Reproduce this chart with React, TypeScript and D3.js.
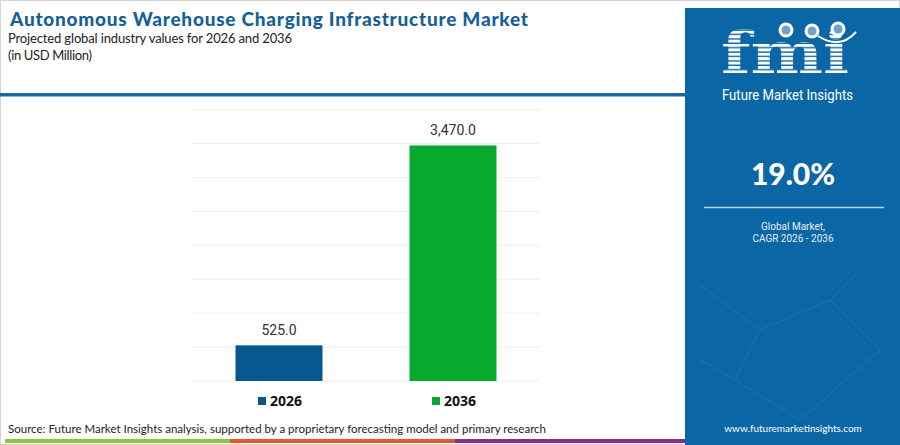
import { useEffect, useRef } from "react";
import * as d3 from "d3";

const years = ["2026", "2036"];
const values = [525.0, 3470.0];
const barColors = ["#08578f", "#08aa2e"];
const gridTicks = [0, 500, 1000, 1500, 2000, 2500, 3000, 3500, 4000];
const cagrText = "19.0%";
const stripColors = ["#8cc540", "#e4572b", "#8b2c8e"];

const App = () => {
  const ref = useRef<SVGSVGElement>(null);

  useEffect(() => {
    const svg = d3.select(ref.current);
    svg.selectAll("*").remove();
    const W = 900;
    const H = 445;
    const font = "Lato, 'Open Sans', sans-serif";

    svg.append("rect").attr("width", W).attr("height", H).attr("fill", "#fff");
    // light frame
    svg
      .append("rect")
      .attr("x", 0.5)
      .attr("y", 0.5)
      .attr("width", W - 1)
      .attr("height", H - 1)
      .attr("fill", "none")
      .attr("stroke", "#d4d4d4");

    // title block
    svg
      .append("text")
      .attr("x", 10)
      .attr("y", 26)
      .attr("font-family", font)
      .attr("font-weight", 900)
      .attr("font-size", 19)
      .attr("fill", "#165f97")
      .attr("textLength", 518)
      .text("Autonomous Warehouse Charging Infrastructure Market");
    svg
      .append("text")
      .attr("x", 8)
      .attr("y", 43)
      .attr("font-family", font)
      .attr("font-size", 13)
      .attr("fill", "#222")
      .attr("textLength", 284)
      .text("Projected global industry values for 2026 and 2036");
    svg
      .append("text")
      .attr("x", 8)
      .attr("y", 60)
      .attr("font-family", font)
      .attr("font-size", 13)
      .attr("fill", "#222")
      .attr("textLength", 84)
      .text("(in USD Million)");

    svg
      .append("rect")
      .attr("x", 0)
      .attr("y", 93)
      .attr("width", 685)
      .attr("height", 3.5)
      .attr("fill", "#1c68a6");

    // chart
    const x = d3
      .scaleBand()
      .domain(years)
      .range([192, 540])
      .paddingInner(0.5)
      .paddingOuter(0.25);
    const y = d3.scaleLinear().domain([0, 4000]).range([381, 109.5]);

    svg
      .append("g")
      .selectAll("line")
      .data(gridTicks)
      .enter()
      .append("line")
      .attr("x1", 192)
      .attr("x2", 540)
      .attr("y1", (d) => y(d))
      .attr("y2", (d) => y(d))
      .attr("stroke", "#ececec")
      .attr("stroke-width", 1);

    const data = years.map((yr, i) => ({ yr, v: values[i], c: barColors[i] }));

    svg
      .append("g")
      .selectAll("rect")
      .data(data)
      .enter()
      .append("rect")
      .attr("x", (d) => x(d.yr)!)
      .attr("width", x.bandwidth())
      .attr("y", (d) => y(d.v))
      .attr("height", (d) => y(0) - y(d.v))
      .attr("fill", (d) => d.c);

    svg
      .append("g")
      .selectAll("text")
      .data(data)
      .enter()
      .append("text")
      .attr("x", (d) => x(d.yr)! + x.bandwidth() / 2)
      .attr("y", (d) => y(d.v) - 10)
      .attr("text-anchor", "middle")
      .attr("font-family", "Roboto, sans-serif")
      .attr("font-size", 14)
      .attr("fill", "#333")
      .text((d) => d3.format(",.1f")(d.v));

    // legend
    const lg = svg
      .append("g")
      .selectAll("g")
      .data(data)
      .enter()
      .append("g")
      .attr("transform", (d) => `translate(${x(d.yr)! + x.bandwidth() / 2 - 21},397)`);
    lg.append("rect").attr("width", 8).attr("height", 8).attr("fill", (d) => d.c);
    lg.append("text")
      .attr("x", 12)
      .attr("y", 9)
      .attr("font-family", "'Open Sans', sans-serif")
      .attr("font-weight", 700)
      .attr("font-size", 14)
      .attr("fill", "#111")
      .text((d) => d.yr);

    // source + strips
    svg
      .append("text")
      .attr("x", 8)
      .attr("y", 433)
      .attr("font-family", font)
      .attr("font-size", 11.5)
      .attr("fill", "#222")
      .attr("textLength", 538)
      .text("Source: Future Market Insights analysis, supported by a proprietary forecasting model and primary research");

    const stripX = [5, 230, 455, 685];
    stripColors.forEach((c, i) => {
      svg
        .append("rect")
        .attr("x", stripX[i])
        .attr("y", 439)
        .attr("width", stripX[i + 1] - stripX[i])
        .attr("height", 4)
        .attr("fill", c);
    });

    // right panel
    const px = 685;
    svg
      .append("rect")
      .attr("x", px)
      .attr("y", 8)
      .attr("width", W - px)
      .attr("height", H - 8)
      .attr("fill", "#0b66a6");

    // faint network decoration
    const net = [
      [700, 285, 760, 330],
      [760, 330, 735, 380],
      [735, 380, 800, 420],
      [760, 330, 830, 300],
      [830, 300, 880, 350],
      [880, 350, 800, 420],
      [700, 360, 735, 380],
      [830, 300, 860, 270],
    ];
    net.forEach(([a, b, c, d]) => {
      svg
        .append("line")
        .attr("x1", a)
        .attr("y1", b)
        .attr("x2", c)
        .attr("y2", d)
        .attr("stroke", "#ffffff")
        .attr("stroke-opacity", 0.08);
    });

    // logo
    const defs = svg.append("defs");
    const pat = defs
      .append("pattern")
      .attr("id", "stripes")
      .attr("patternUnits", "userSpaceOnUse")
      .attr("width", 10)
      .attr("height", 4.4);
    pat.append("rect").attr("width", 10).attr("height", 3).attr("fill", "#fff");

    svg
      .append("text")
      .attr("x", 721)
      .attr("y", 73)
      .attr("font-family", "'DejaVu Serif', serif")
      .attr("font-weight", 700)
      .attr("font-size", 58)
      .attr("fill", "url(#stripes)")
      .attr("textLength", 128)
      .attr("lengthAdjust", "spacingAndGlyphs")
      .text("fmi");
    [
      [786, 30],
      [812, 31],
      [838, 29],
    ].forEach(([cx, cy]) => {
      svg.append("circle").attr("cx", cx).attr("cy", cy).attr("r", 7.5).attr("fill", "#fff");
      svg
        .append("circle")
        .attr("cx", cx)
        .attr("cy", cy)
        .attr("r", 4.5)
        .attr("fill", "#0b66a6")
        .attr("fill-opacity", 0.6);
    });
    svg
      .append("path")
      .attr("d", "M818,36 Q840,50 856,32")
      .attr("fill", "none")
      .attr("stroke", "#fff")
      .attr("stroke-width", 2);

    svg
      .append("text")
      .attr("x", 722)
      .attr("y", 100)
      .attr("font-family", "Roboto, sans-serif")
      .attr("font-size", 14)
      .attr("fill", "#fff")
      .attr("textLength", 131)
      .attr("lengthAdjust", "spacingAndGlyphs")
      .text("Future Market Insights");

    svg
      .append("text")
      .attr("x", 793)
      .attr("y", 185)
      .attr("text-anchor", "middle")
      .attr("font-family", font)
      .attr("font-weight", 900)
      .attr("font-size", 30)
      .attr("fill", "#fff")
      .text(cagrText);

    svg
      .append("line")
      .attr("x1", 704)
      .attr("x2", 884)
      .attr("y1", 207.5)
      .attr("y2", 207.5)
      .attr("stroke", "#b9d3ea")
      .attr("stroke-width", 1.5);

    svg
      .append("text")
      .attr("x", 793)
      .attr("y", 230)
      .attr("text-anchor", "middle")
      .attr("font-family", "Roboto, sans-serif")
      .attr("font-size", 10)
      .attr("fill", "#e6eef6")
      .text("Global Market,");
    svg
      .append("text")
      .attr("x", 793)
      .attr("y", 242)
      .attr("text-anchor", "middle")
      .attr("font-family", "Roboto, sans-serif")
      .attr("font-size", 10)
      .attr("fill", "#e6eef6")
      .text("CAGR 2026 - 2036");

    svg
      .append("text")
      .attr("x", 793)
      .attr("y", 432)
      .attr("text-anchor", "middle")
      .attr("font-family", font)
      .attr("font-size", 10)
      .attr("fill", "#fff")
      .text("www.futuremarketinsights.com");
  }, []);

  return (
    <svg
      ref={ref}
      width={900}
      height={445}
      style={{ position: "absolute", left: 0, top: 0, display: "block" }}
    />
  );
};

export default App;
